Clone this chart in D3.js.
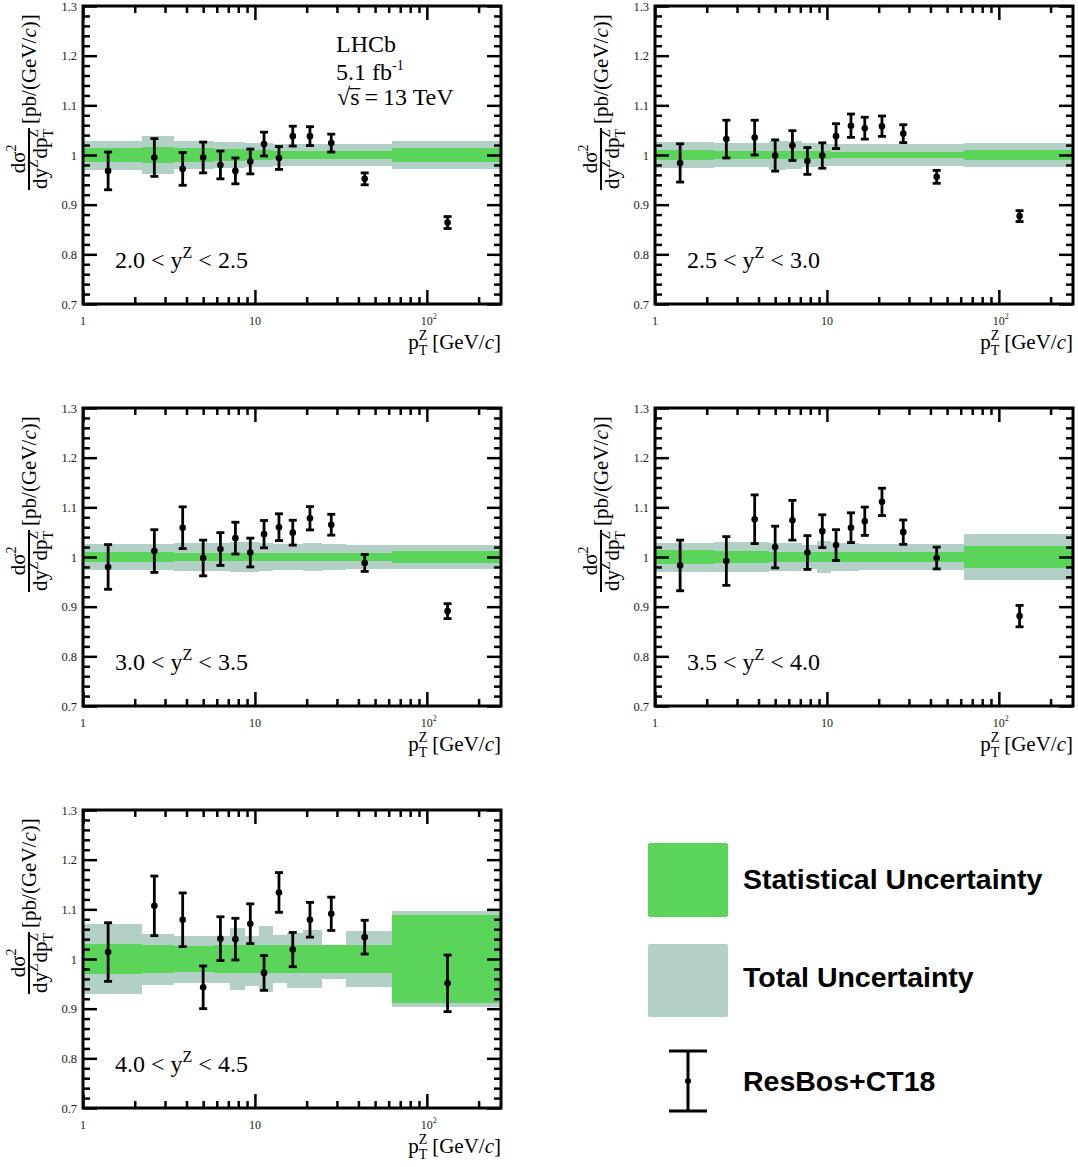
<!DOCTYPE html>
<html><head><meta charset="utf-8">
<script src="https://cdn.jsdelivr.net/npm/d3@7"></script>
<style>body{margin:0;background:#fff} svg{display:block}</style>
</head><body><svg id="c" width="1078" height="1167"></svg>
<script>
// ---------------- DATA ----------------
const binEdges   = [0, 2.2, 3.4, 4.6, 5.8, 7.2, 8.7, 10.5, 12.8, 15.4, 19.0, 24.5, 34.0, 63.0, 270.0];
const ptCentres  = [1.4, 2.6, 3.8, 5.0, 6.3, 7.7, 9.4, 11.3, 13.8, 16.6, 20.9, 27.8, 43.5, 132];
const yBinLabels = [["2.0","2.5"],["2.5","3.0"],["3.0","3.5"],["3.5","4.0"],["4.0","4.5"]];

// ResBos+CT18 / data ratio and its error
const ratio_20_25 = [0.968, 0.995, 0.972, 0.995, 0.980, 0.968, 0.987, 1.022, 0.994, 1.038, 1.038, 1.024, 0.952, 0.864];
const err_20_25   = [0.038, 0.038, 0.033, 0.031, 0.028, 0.026, 0.025, 0.024, 0.023, 0.020, 0.019, 0.018, 0.012, 0.012];
const ratio_25_30 = [0.984, 1.032, 1.035, 0.999, 1.019, 0.988, 0.999, 1.038, 1.059, 1.054, 1.058, 1.043, 0.956, 0.877];
const err_25_30   = [0.0385, 0.038, 0.035, 0.0315, 0.030, 0.027, 0.0255, 0.025, 0.0235, 0.022, 0.0205, 0.018, 0.013, 0.011];
const ratio_30_35 = [0.980, 1.012, 1.059, 0.998, 1.016, 1.038, 1.009, 1.046, 1.060, 1.049, 1.078, 1.065, 0.988, 0.891];
const err_30_35   = [0.045, 0.043, 0.042, 0.036, 0.033, 0.032, 0.029, 0.0275, 0.027, 0.025, 0.0235, 0.021, 0.017, 0.015];
const ratio_35_40 = [0.983, 0.992, 1.076, 1.020, 1.074, 1.009, 1.052, 1.024, 1.059, 1.072, 1.111, 1.050, 0.998, 0.881];
const err_35_40   = [0.051, 0.049, 0.049, 0.042, 0.040, 0.034, 0.033, 0.031, 0.030, 0.0285, 0.0275, 0.0245, 0.022, 0.0215];
const ratio_40_45 = [1.014, 1.107, 1.079, 0.943, 1.041, 1.040, 1.071, 0.972, 1.134, 1.019, 1.079, 1.091, 1.044, 0.951];
const err_40_45   = [0.059, 0.060, 0.054, 0.043, 0.044, 0.042, 0.040, 0.035, 0.040, 0.0345, 0.035, 0.0335, 0.034, 0.057];

// relative statistical uncertainty of data (per bin)
const stat_20_25 = [0.0145, 0.016, 0.014, 0.014, 0.013, 0.012, 0.011, 0.010, 0.009, 0.009, 0.008, 0.008, 0.008, 0.0135];
const stat_25_30 = [0.0095, 0.009, 0.009, 0.009, 0.009, 0.008, 0.008, 0.007, 0.007, 0.006, 0.006, 0.006, 0.0065, 0.010];
const stat_30_35 = [0.010, 0.010, 0.009, 0.009, 0.009, 0.009, 0.009, 0.008, 0.008, 0.008, 0.008, 0.008, 0.008, 0.012];
const stat_35_40 = [0.0135, 0.012, 0.012, 0.011, 0.011, 0.011, 0.010, 0.010, 0.010, 0.010, 0.010, 0.010, 0.010, 0.022];
const stat_40_45 = [0.031, 0.029, 0.027, 0.027, 0.029, 0.029, 0.029, 0.029, 0.029, 0.029, 0.029, 0.029, 0.029, 0.088];

// relative total uncertainty of data (upper / lower)
const totUp_20_25 = [0.029, 0.038, 0.028, 0.028, 0.027, 0.026, 0.025, 0.024, 0.023, 0.022, 0.022, 0.022, 0.023, 0.028];
const totDn_20_25 = [0.030, 0.039, 0.029, 0.028, 0.027, 0.026, 0.025, 0.024, 0.023, 0.022, 0.022, 0.022, 0.023, 0.028];
const totUp_25_30 = [0.026, 0.025, 0.025, 0.029, 0.028, 0.025, 0.023, 0.022, 0.022, 0.022, 0.022, 0.022, 0.022, 0.024];
const totDn_25_30 = [0.027, 0.025, 0.025, 0.030, 0.028, 0.025, 0.023, 0.022, 0.022, 0.022, 0.022, 0.022, 0.022, 0.024];
const totUp_30_35 = [0.027, 0.026, 0.028, 0.029, 0.028, 0.030, 0.030, 0.028, 0.027, 0.027, 0.029, 0.026, 0.024, 0.025];
const totDn_30_35 = [0.027, 0.026, 0.028, 0.029, 0.028, 0.030, 0.030, 0.028, 0.027, 0.027, 0.029, 0.026, 0.024, 0.025];
const totUp_35_40 = [0.029, 0.031, 0.031, 0.028, 0.028, 0.025, 0.032, 0.029, 0.029, 0.026, 0.026, 0.026, 0.026, 0.047];
const totDn_35_40 = [0.031, 0.031, 0.031, 0.028, 0.028, 0.025, 0.032, 0.029, 0.029, 0.026, 0.026, 0.026, 0.026, 0.047];
const totUp_40_45 = [0.0706, 0.051, 0.046, 0.047, 0.047, 0.063, 0.047, 0.066, 0.049, 0.053, 0.059, 0.029, 0.057, 0.097];
const totDn_40_45 = [0.0712, 0.052, 0.048, 0.049, 0.049, 0.063, 0.055, 0.066, 0.049, 0.058, 0.058, 0.041, 0.057, 0.097];

const yTickValues = [0.7, 0.8, 0.9, 1.0, 1.1, 1.2, 1.3];
const yTickLabels = ["0.7", "0.8", "0.9", "1", "1.1", "1.2", "1.3"];
const xTickValues = [1, 10, 100];
const xTickLabels = [["1", ""], ["10", ""], ["10", "2"]];
const legendLabels = ["Statistical Uncertainty", "Total Uncertainty", "ResBos+CT18"];
const lhcbLines = ["LHCb", "5.1 fb", "-1", "13 TeV"];

// ---------------- STYLE / LAYOUT ----------------
const GREEN = "#5ad55a", GRAY = "#b3d0c7";
const SERIF = "'Liberation Serif','Times New Roman',serif";
const SANS = "'Liberation Sans',Arial,sans-serif";
const layout = {cols: [83, 655], rows: [6, 408, 810], w: 418, h: 298};

const panels = [
  {lab: yBinLabels[0], ratio: ratio_20_25, err: err_20_25, stat: stat_20_25, up: totUp_20_25, dn: totDn_20_25, col: 0, row: 0, lhcb: true},
  {lab: yBinLabels[1], ratio: ratio_25_30, err: err_25_30, stat: stat_25_30, up: totUp_25_30, dn: totDn_25_30, col: 1, row: 0},
  {lab: yBinLabels[2], ratio: ratio_30_35, err: err_30_35, stat: stat_30_35, up: totUp_30_35, dn: totDn_30_35, col: 0, row: 1},
  {lab: yBinLabels[3], ratio: ratio_35_40, err: err_35_40, stat: stat_35_40, up: totUp_35_40, dn: totDn_35_40, col: 1, row: 1},
  {lab: yBinLabels[4], ratio: ratio_40_45, err: err_40_45, stat: stat_40_45, up: totUp_40_45, dn: totDn_40_45, col: 0, row: 2},
];

const svg = d3.select("#c");
svg.append("rect").attr("width", 1078).attr("height", 1167).attr("fill", "#fff");

// rich text helper: sequential pieces, optional stacking (sub under sup), optional overbar
function rich(parent, parts, opt) {
  const g = parent.append("g");
  let x = 0, lastStart = 0;
  parts.forEach(p => {
    if (p.gap) { x += p.gap; return; }
    const sx = p.stack ? lastStart : x;
    const fs = p.fs || opt.fs;
    const t = g.append("text").attr("x", sx).attr("y", p.dy || 0)
      .attr("font-family", opt.family || SERIF)
      .attr("font-size", fs)
      .attr("font-style", p.italic ? "italic" : "normal")
      .attr("font-weight", opt.weight || "normal")
      .attr("fill", opt.fill || "#000")
      .text(p.t);
    const w = t.node().getComputedTextLength();
    if (p.bar) {
      g.append("line").attr("x1", sx - 1).attr("x2", sx + w + 1)
        .attr("y1", (p.dy || 0) - p.bar * fs).attr("y2", (p.dy || 0) - p.bar * fs)
        .attr("stroke", opt.fill || "#000").attr("stroke-width", 1.2);
    }
    if (!p.stack) lastStart = sx;
    x = Math.max(x, sx + w);
  });
  const shift = opt.anchor === "end" ? -x : opt.anchor === "middle" ? -x / 2 : 0;
  g.attr("transform", `translate(${opt.x},${opt.y}) rotate(${opt.rotate || 0}) translate(${shift},0)`);
  return {g, width: x};
}

const x = d3.scaleLog().domain([1, 270]).range([0, layout.w]);
const y = d3.scaleLinear().domain([0.7, 1.3]).range([layout.h, 0]);
const xMinor = x.ticks().filter(v => !xTickValues.includes(v));
const yMinor = y.ticks(30).filter(v => !yTickValues.some(t => Math.abs(t - v) < 1e-6));
const bins = binEdges.slice(0, -1).map((e, i) => ({lo: Math.max(e, 1), hi: binEdges[i + 1], i}));

panels.forEach(p => {
  const X0 = layout.cols[p.col], Y0 = layout.rows[p.row];
  const g = svg.append("g").attr("transform", `translate(${X0},${Y0})`);

  // total uncertainty band
  g.append("g").selectAll("rect").data(bins).join("rect")
    .attr("x", d => x(d.lo)).attr("width", d => x(d.hi) - x(d.lo))
    .attr("y", d => y(1 + p.up[d.i])).attr("height", d => y(1 - p.dn[d.i]) - y(1 + p.up[d.i]))
    .attr("fill", GRAY).attr("shape-rendering", "crispEdges");
  // statistical band
  g.append("g").selectAll("rect").data(bins).join("rect")
    .attr("x", d => x(d.lo)).attr("width", d => x(d.hi) - x(d.lo))
    .attr("y", d => y(1 + p.stat[d.i])).attr("height", d => y(1 - p.stat[d.i]) - y(1 + p.stat[d.i]))
    .attr("fill", GREEN).attr("shape-rendering", "crispEdges");

  // ResBos points with error bars
  const pts = ptCentres.map((c, i) => ({c, v: p.ratio[i], e: p.err[i]}));
  const eb = g.append("g").attr("stroke", "#000").attr("stroke-width", 2.8);
  eb.selectAll("line.v").data(pts).join("line").attr("class", "v")
    .attr("x1", d => x(d.c)).attr("x2", d => x(d.c))
    .attr("y1", d => y(d.v - d.e)).attr("y2", d => y(d.v + d.e));
  eb.selectAll("line.t").data(pts).join("line").attr("class", "t")
    .attr("x1", d => x(d.c) - 4).attr("x2", d => x(d.c) + 4)
    .attr("y1", d => y(d.v + d.e)).attr("y2", d => y(d.v + d.e));
  eb.selectAll("line.b").data(pts).join("line").attr("class", "b")
    .attr("x1", d => x(d.c) - 4).attr("x2", d => x(d.c) + 4)
    .attr("y1", d => y(d.v - d.e)).attr("y2", d => y(d.v - d.e));
  g.append("g").selectAll("circle").data(pts).join("circle")
    .attr("cx", d => x(d.c)).attr("cy", d => y(d.v)).attr("r", 3.3).attr("fill", "#000");

  // axes (inward ticks)
  const styleAxis = (sel) => { sel.select(".domain").remove(); sel.selectAll("line").attr("stroke", "#000").attr("stroke-width", 2.5); };
  g.append("g").call(d3.axisLeft(y).tickValues(yTickValues).tickSizeInner(-14).tickSizeOuter(0).tickPadding(6)
      .tickFormat((d, i) => yTickLabels[i])).call(styleAxis)
    .call(s => s.selectAll("text").attr("font-family", SERIF).attr("font-size", 12.5).attr("fill", "#222"));
  g.append("g").call(d3.axisLeft(y).tickValues(yMinor).tickSizeInner(-7).tickSizeOuter(0).tickFormat("")).call(styleAxis);
  g.append("g").attr("transform", `translate(${layout.w},0)`)
    .call(d3.axisRight(y).tickValues(yTickValues).tickSizeInner(-14).tickSizeOuter(0).tickFormat("")).call(styleAxis);
  g.append("g").attr("transform", `translate(${layout.w},0)`)
    .call(d3.axisRight(y).tickValues(yMinor).tickSizeInner(-7).tickSizeOuter(0).tickFormat("")).call(styleAxis);
  g.append("g").attr("transform", `translate(0,${layout.h})`)
    .call(d3.axisBottom(x).tickValues(xTickValues).tickSizeInner(-14).tickSizeOuter(0).tickFormat("")).call(styleAxis);
  g.append("g").attr("transform", `translate(0,${layout.h})`)
    .call(d3.axisBottom(x).tickValues(xMinor).tickSizeInner(-7).tickSizeOuter(0).tickFormat("")).call(styleAxis);
  g.append("g").call(d3.axisTop(x).tickValues(xTickValues).tickSizeInner(-14).tickSizeOuter(0).tickFormat("")).call(styleAxis);
  g.append("g").call(d3.axisTop(x).tickValues(xMinor).tickSizeInner(-7).tickSizeOuter(0).tickFormat("")).call(styleAxis);

  // x tick labels
  xTickValues.forEach((v, i) => {
    const parts = [{t: xTickLabels[i][0]}];
    if (xTickLabels[i][1]) parts.push({t: xTickLabels[i][1], fs: 8, dy: -6});
    rich(g, parts, {x: x(v) + (xTickLabels[i][1] ? 2 : 0), y: layout.h + 21, fs: 12, anchor: "middle", fill: "#222"});
  });

  // frame
  g.append("rect").attr("width", layout.w).attr("height", layout.h)
    .attr("fill", "none").attr("stroke", "#000").attr("stroke-width", 3);

  // x-axis title
  rich(g, [{t: "p"}, {t: "Z", fs: 14, dy: -9}, {t: "T", fs: 14, dy: 6, stack: true}, {gap: 5},
           {t: "[GeV/"}, {t: "c", italic: true}, {t: "]"}],
       {x: layout.w, y: layout.h + 45, fs: 21, anchor: "end"});

  // y-axis title (rotated)
  const yl = g.append("g").attr("transform", `translate(${29 - X0 + (p.col ? 572 : 0)},184) rotate(-90)`);
  const den = rich(yl, [{t: "dy"}, {t: "Z", fs: 14, dy: -9}, {gap: 1}, {t: "dp"}, {t: "Z", fs: 14, dy: -9},
                        {t: "T", fs: 14, dy: 6, stack: true}], {x: 1, y: 18, fs: 21});
  const L = den.width + 2;
  yl.append("line").attr("x1", 0).attr("x2", L).attr("y1", 0).attr("y2", 0).attr("stroke", "#000").attr("stroke-width", 2);
  rich(yl, [{t: "d\u03c3"}, {t: "2", fs: 14, dy: -9}], {x: L / 2, y: -4, fs: 21, anchor: "middle"});
  rich(yl, [{t: "[pb/(GeV/"}, {t: "c", italic: true}, {t: ")]"}], {x: L + 4, y: 7, fs: 21});

  // rapidity range label
  rich(g, [{t: p.lab[0]}, {gap: 6}, {t: "< y"}, {t: "Z", fs: 16, dy: -10}, {gap: 6}, {t: "<"}, {gap: 6}, {t: p.lab[1]}],
       {x: 32, y: 262, fs: 24});

  if (p.lhcb) {
    rich(g, [{t: lhcbLines[0]}], {x: 253, y: 46, fs: 24});
    rich(g, [{t: lhcbLines[1]}, {t: lhcbLines[2], fs: 14, dy: -10}], {x: 253, y: 74, fs: 24});
    rich(g, [{t: "\u221a"}, {t: "s", bar: 0.68}, {gap: 5}, {t: "="}, {gap: 5}, {t: lhcbLines[3]}], {x: 254, y: 99, fs: 24});
  }
});

// ---------------- LEGEND ----------------
const lg = svg.append("g");
lg.append("rect").attr("x", 648).attr("y", 843).attr("width", 80).attr("height", 74).attr("rx", 2).attr("fill", GREEN);
lg.append("rect").attr("x", 648).attr("y", 944).attr("width", 80).attr("height", 73).attr("rx", 2).attr("fill", GRAY);
const lgb = lg.append("g").attr("stroke", "#000").attr("stroke-width", 3);
lgb.append("line").attr("x1", 688).attr("x2", 688).attr("y1", 1051).attr("y2", 1111);
lgb.append("line").attr("x1", 669).attr("x2", 707).attr("y1", 1051).attr("y2", 1051);
lgb.append("line").attr("x1", 669).attr("x2", 707).attr("y1", 1111).attr("y2", 1111);
lg.append("circle").attr("cx", 688).attr("cy", 1081).attr("r", 3).attr("fill", "#000");
[889, 987, 1091].forEach((yy, i) => {
  lg.append("text").attr("x", 743).attr("y", yy).attr("font-family", SANS).attr("font-weight", "bold")
    .attr("font-size", 28.5).attr("fill", "#000").text(legendLabels[i]);
});
</script></body></html>
